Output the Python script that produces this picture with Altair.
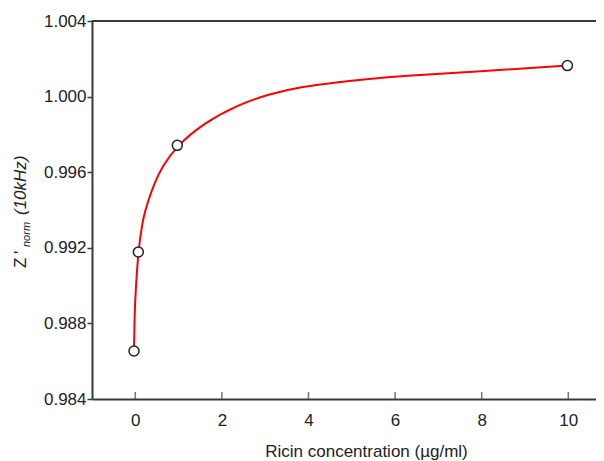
import altair as alt
import pandas as pd

# measured points
pts_x = [-0.03, 0.07, 0.97, 9.98]
pts_y = [0.98654, 0.99178, 0.99742, 1.00164]

# fitted curve
curve_x = [-0.03, -0.02, 0.007, 0.07, 0.106, 0.18, 0.30, 0.44, 0.61, 0.97,
           1.56, 2.33, 3.10, 3.87, 4.64, 5.41, 6.10, 7.95, 9.98]
curve_y = [0.98654, 0.98817, 0.98976, 0.99178, 0.99240, 0.99360, 0.99451,
           0.99539, 0.99627, 0.99742, 0.99856, 0.99953, 1.00015, 1.00053,
           1.00076, 1.00094, 1.00108, 1.00134, 1.00164]

x_ticks = [0, 2, 4, 6, 8, 10]
y_ticks = [0.984, 0.988, 0.992, 0.996, 1.000, 1.004]

W, H = 504, 378
FONT = "Liberation Sans"
AX = "#3a3a3a"

pts = pd.DataFrame({"x": pts_x, "y": pts_y})
curve = pd.DataFrame({"x": curve_x, "y": curve_y})
ticks = pd.DataFrame({"x": x_ticks})

xs = alt.Scale(domain=[-1, 10.64], nice=False, zero=False)
ys = alt.Scale(domain=[0.984, 1.004], nice=False, zero=False)

xaxis = alt.Axis(values=x_ticks, format="d", title="Ricin concentration (µg/ml)",
                 ticks=False, labelPadding=13, labelFontSize=17, labelFont=FONT,
                 labelColor="#222", domainColor=AX, domainWidth=2, grid=False,
                 titleFont=FONT, titleFontSize=17, titleFontWeight="normal",
                 titleColor="#222", titleX=274, titleY=57,
                 titleBaseline="alphabetic", titleAlign="center")
yaxis = alt.Axis(values=y_ticks, format=".3f", title=None,
                 tickSize=5, tickWidth=1.5, tickColor=AX, labelPadding=1,
                 labelFontSize=17, labelFont=FONT, labelColor="#222",
                 domainColor=AX, domainWidth=2, grid=False)

line = alt.Chart(curve).mark_line(color="#ff0000", strokeWidth=2,
                                  interpolate="basis").encode(
    x=alt.X("x:Q", scale=xs, axis=xaxis),
    y=alt.Y("y:Q", scale=ys, axis=yaxis),
    order="x:Q",
)

points = alt.Chart(pts).mark_point(shape="circle", filled=False, fill="white",
                                   fillOpacity=1, stroke="#222", strokeWidth=1.5,
                                   size=100, opacity=1).encode(
    x=alt.X("x:Q", scale=xs),
    y=alt.Y("y:Q", scale=ys),
)

xticks = alt.Chart(ticks).mark_tick(color=AX, thickness=1.5, size=7,
                                    orient="vertical").encode(
    x=alt.X("x:Q", scale=xs),
    y=alt.value(H - 3.5),
)

top = alt.Chart(pd.DataFrame({"a": [0]})).mark_rule(color=AX, strokeWidth=2).encode(
    x=alt.value(0), x2=alt.value(W), y=alt.value(0)
)

title_df = pd.DataFrame({"a": [0]})
t1 = alt.Chart(title_df).mark_text(text="Z", angle=270, align="left",
                                   baseline="alphabetic", font=FONT, fontSize=17,
                                   color="#222").encode(
    x=alt.value(-66), y=alt.value(247))
t1b = alt.Chart(title_df).mark_text(text="'", angle=270, align="left",
                                    baseline="alphabetic", font=FONT, fontSize=17,
                                    color="#222").encode(
    x=alt.value(-66), y=alt.value(233))
t2 = alt.Chart(title_df).mark_text(text="norm", angle=270, align="left",
                                   baseline="alphabetic", font=FONT, fontSize=11,
                                   fontStyle="italic", color="#222").encode(
    x=alt.value(-62), y=alt.value(226))
t3 = alt.Chart(title_df).mark_text(text="(10kHz)", angle=270, align="left",
                                   baseline="alphabetic", font=FONT, fontSize=17,
                                   fontStyle="italic", color="#222").encode(
    x=alt.value(-66), y=alt.value(194))

chart = alt.layer(line, points, xticks, top, t1, t1b, t2, t3).properties(
    width=W, height=H,
    autosize=alt.AutoSizeParams(type="none"),
    padding={"left": 84, "top": 13, "right": 0, "bottom": 61},
    background="white",
).configure_view(stroke=None)

chart.save("out.html", embed_options={"renderer": "svg", "actions": False})
